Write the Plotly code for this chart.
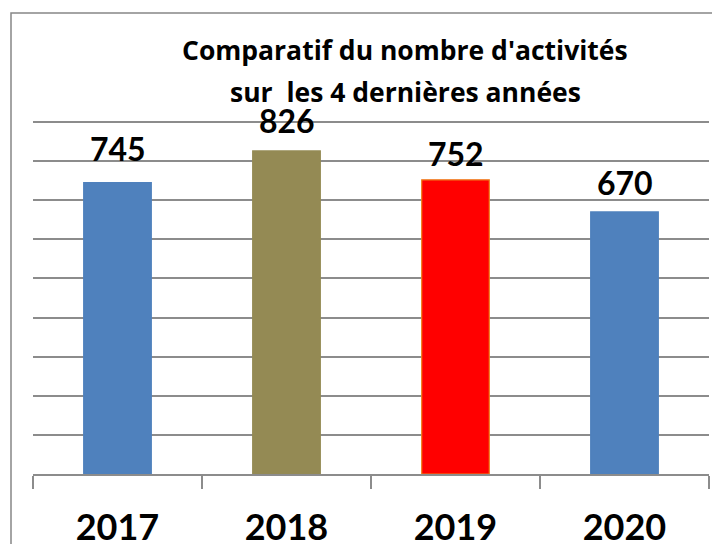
import plotly.graph_objects as go

years = ["2017", "2018", "2019", "2020"]
values = [745, 826, 752, 670]
bar_colors = ["#4F81BD", "#948A54", "#FF0000", "#4F81BD"]
bar_line_colors = ["#4F81BD", "#948A54", "#F07F1A", "#4F81BD"]
title_lines = ["Comparatif du nombre d'activités", "sur  les 4 dernières années"]
label_gaps = [13, 9, 5, 8]   # pixel offset of each value label above its bar

FONT = "Lato"
TITLE_FONT = "Open Sans"
GRID = "#8C8C8C"

# The page body has an 8px default margin: figure is 712x536 so it fills the 720x544 window.
W, H = 712, 536
ML, MR, MT, MB = 25, 11, 112, 70
PH = H - MT - MB

fig = go.Figure()
fig.add_trace(go.Bar(
    x=years, y=values,
    marker=dict(color=bar_colors, line=dict(color=bar_line_colors, width=1.2)),
    width=0.4,
    hoverinfo="skip",
))

for i, (v, g) in enumerate(zip(values, label_gaps)):
    fig.add_annotation(x=i, y=v, xref="x", yref="y", text=f"<b>{v}</b>", showarrow=False,
                       yanchor="bottom", yshift=g,
                       font=dict(family=FONT, size=32, color="black"))

title_px = [50 - 8, 92 - 8]
for t, py in zip(title_lines, title_px):
    fig.add_annotation(xref="paper", yref="paper", x=(397 - ML) / (W - ML - MR),
                       y=(H - MB - py) / PH, text=f"<b>{t}</b>",
                       showarrow=False, xanchor="center", yanchor="middle",
                       font=dict(family=TITLE_FONT, size=26.5, color="black"))

# outer chart border
fig.add_shape(type="rect", xref="paper", yref="paper",
              x0=(3 - ML) / (W - ML - MR), x1=1.05, y0=-0.4, y1=(H - MB - 5) / PH,
              line=dict(color="#878787", width=1.5), layer="below")

fig.update_layout(
    width=W, height=H,
    margin=dict(l=ML, r=MR, t=MT, b=MB),
    paper_bgcolor="white", plot_bgcolor="white",
    showlegend=False,
    xaxis=dict(
        type="category", automargin=False,
        showline=True, linecolor=GRID, linewidth=1.5,
        ticks="outside", tickson="boundaries", ticklen=13, tickwidth=1.5, tickcolor=GRID,
        tickfont=dict(family=FONT, size=36, color="black"),
        ticklabelstandoff=21, tickangle=0,
        tickprefix="<b>", ticksuffix="</b>",
        showgrid=False,
    ),
    yaxis=dict(
        range=[0, 905], tick0=0, dtick=100, automargin=False,
        showticklabels=False, showgrid=True, gridcolor=GRID, gridwidth=1.5,
        zeroline=False, showline=False,
    ),
)

fig.write_html("out.html")
